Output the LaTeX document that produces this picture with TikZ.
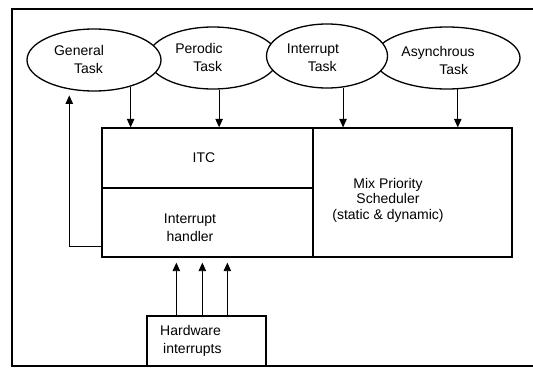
\documentclass[tikz,border=0pt]{standalone}
\usepackage{fontspec}
\setmainfont{Liberation Sans}
\usetikzlibrary{arrows.meta,calc,shapes.geometric}
\begin{document}
\begin{tikzpicture}[x=1pt,y=-1pt,
  every node/.style={font=\fontsize{14}{18}\selectfont},
  task/.style={ellipse, draw, line width=1.3pt, fill=white, inner sep=0pt},
  blk/.style={rectangle, draw, line width=1.3pt, inner sep=0pt},
  txt/.style={inner sep=0pt, align=center},
  ltxt/.style={inner sep=0pt, align=left},
  arr/.style={-{Triangle[length=8.5pt,width=7.5pt]}, line width=0.9pt}]
\useasboundingbox (0,0) rectangle (533,367);
% frame
\draw[line width=1.2pt] (533,9) -- (12,9) -- (12,366) -- (533,366);
% task ellipses (drawing order gives the overlaps)
\node[task, minimum width=130pt, minimum height=62pt] (per) at (213,58) {};
\node[task, minimum width=146pt, minimum height=62pt] (asy) at (447,58) {};
\node[task, minimum width=134pt, minimum height=62pt] (gen) at (94,60) {};
\node[task, minimum width=121pt, minimum height=64pt] (int) at (327,56) {};
\node[ltxt] (tgen) at (79,59) {General\\\hspace*{20pt}Task};
\node[ltxt] (tper) at (199,57) {Perodic\\\hspace*{18pt}Task};
\node[ltxt] (tint) at (313,58) {Interrupt\\\hspace*{21pt}Task};
\node[ltxt] (tasy) at (438,60) {Asynchrous\\\hspace*{38pt}Task};
% main block
\node[blk, minimum width=211pt, minimum height=60pt] (itc) at (207.5,158) {};
\node[blk, minimum width=211pt, minimum height=69pt] (ih) at (207.5,222.5) {};
\node[blk, minimum width=199pt, minimum height=129pt] (mps) at (412.5,192.5) {};
\node[txt] (titc) at (204,158) {ITC};
\node[txt] (tih) at (190,228) {Interrupt\\handler};
\node[txt, font=\fontsize{14}{15.5}\selectfont] (tmps) at (388,200) {Mix Priority\\Scheduler\\(static \& dynamic)};
% hardware
\node[blk, minimum width=119pt, minimum height=50pt] (hw) at (206.5,341) {};
\node[ltxt, anchor=west] (thw) at (160,341) {Hardware\\\hspace*{3pt}interrupts};
% arrows from tasks
\draw[arr] (gen.-36) -- (gen.-36 |- itc.north);
\draw[arr] (per.-79) -- (per.-79 |- itc.north);
\draw[arr] (int.-63) -- (int.-63 |- mps.north);
\draw[arr] (asy.-71) -- (asy.-71 |- mps.north);
% loop back to general task
\coordinate (lp) at ($(ih.south west)+(0,-11)$);
\draw[arr, shorten >=6pt] (lp) -| (gen.-130);
% hardware interrupts
\coordinate (h1) at ($(hw.north west)+(30,0)$);
\coordinate (h2) at ($(hw.north west)+(56,0)$);
\coordinate (h3) at ($(hw.north west)+(81,0)$);
\draw[arr, shorten >=5pt] (h1) -- (h1 |- ih.south);
\draw[arr, shorten >=5pt] (h2) -- (h2 |- ih.south);
\draw[arr, shorten >=5pt] (h3) -- (h3 |- ih.south);
\end{tikzpicture}
\end{document}
